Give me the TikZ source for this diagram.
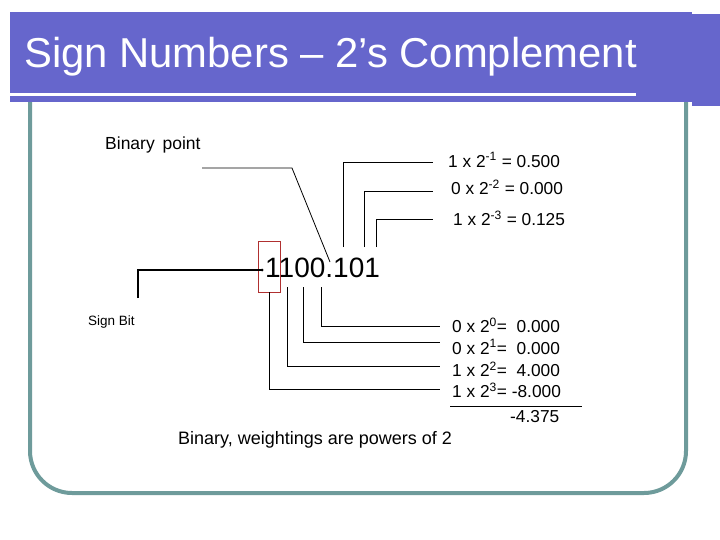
\documentclass[tikz,border=0pt]{standalone}
\usepackage{fontspec}
\setmainfont{Liberation Sans}
\definecolor{barblue}{HTML}{6666CC}
\definecolor{frameteal}{HTML}{6E9B9B}
\definecolor{boxred}{HTML}{B03030}
\begin{document}
\begin{tikzpicture}[x=1pt,y=-1pt,
  lbl/.style={inner sep=0pt,anchor=west,font=\fontsize{17.3}{17}\selectfont},
  ln/.style={draw=black,line width=0.8pt}]
\useasboundingbox (0,0) rectangle (720,540);
% frame
\draw[frameteal,line width=4pt,rounded corners=42pt] (30,95) -- (30,493) -- (686,493) -- (686,95);
% title bar
\fill[barblue] (10,12) rectangle (692,102);
\fill[barblue] (692,14) rectangle (720,106);
\draw[white,line width=3pt] (10,95) -- (636,95);
\node[inner sep=0pt,anchor=west,text=white,font=\fontsize{41.8}{42}\selectfont] (title) at (24,57) {Sign Numbers – 2’s Complement};
% binary number
\node[inner sep=0pt,anchor=west,font=\fontsize{28}{28}\selectfont] (num) at (265,268) {1100.101};
\node[draw=boxred,line width=0.8pt,minimum width=22pt,minimum height=51pt,inner sep=0pt] (sbox) at (269,266.5) {};
\fill (262,270) circle (1.5pt);
\coordinate (dot) at (262,270);
% labels
\node[lbl,font=\fontsize{17.5}{17}\selectfont] (bp) at (105,145) {Binary\, point};
\node[lbl,font=\fontsize{13.5}{13}\selectfont] (sb) at (88,322) {Sign Bit};
\node[lbl] (t1) at (448,160) {1 x 2\textsuperscript{-1} = 0.500};
\node[lbl] (t2) at (451,187) {0 x 2\textsuperscript{-2} = 0.000};
\node[lbl] (t3) at (453,218) {1 x 2\textsuperscript{-3} = 0.125};
\node[lbl] (b0) at (452,325) {0 x 2\textsuperscript{0}=\ \ 0.000};
\node[lbl] (b1) at (452,347) {0 x 2\textsuperscript{1}=\ \ 0.000};
\node[lbl] (b2) at (452,369) {1 x 2\textsuperscript{2}=\ \ 4.000};
\node[lbl] (b3) at (452,390) {1 x 2\textsuperscript{3}= -8.000};
\node[lbl] (sum) at (510,417) {-4.375};
\node[lbl,font=\fontsize{18}{18}\selectfont] (cap) at (178,440) {Binary, weightings are powers of 2};
% connectors
\coordinate (bpa) at (202,168);
\draw[ln] (bpa) -- (292,168) -- (330,262);
\draw[ln] (343,247) |- (433,162);
\draw[ln] (364,247) |- (433,191);
\draw[ln] (376,247) |- (433,219);
\draw[line width=1.3pt] (138,298) |- (dot);
\draw[ln] (321,287) |- (440,326);
\draw[ln] (303,287) |- (440,342);
\draw[ln] (287,287) |- (440,366);
\draw[ln] (269,292) |- (440,389);
\draw[ln] (450,406) -- (582,406);
\end{tikzpicture}
\end{document}
